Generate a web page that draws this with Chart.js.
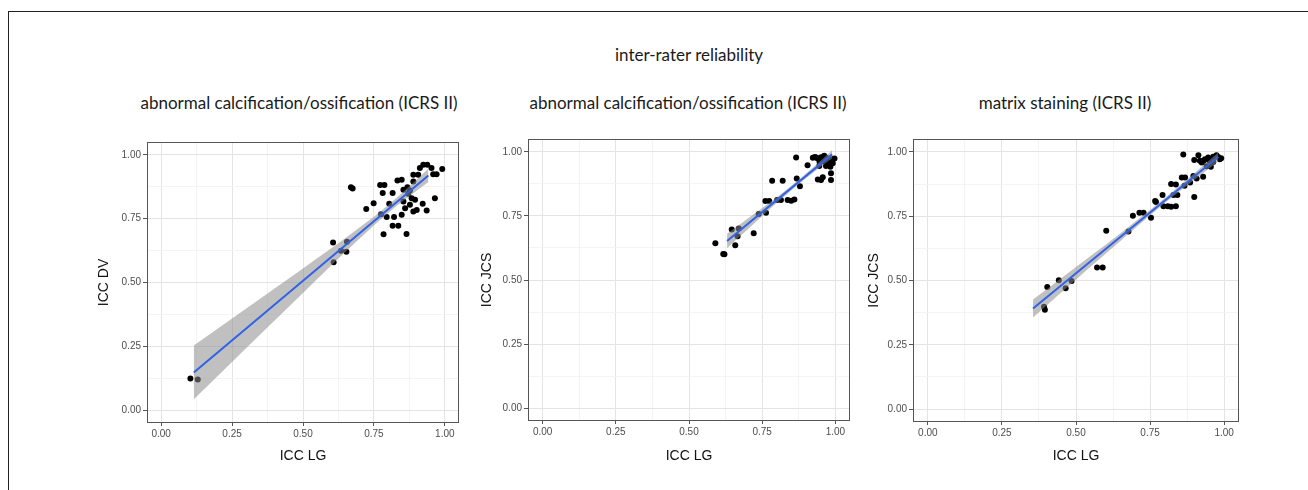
<!DOCTYPE html>
<html>
<head>
<meta charset="utf-8">
<script src="https://cdn.jsdelivr.net/npm/chart.js@4.4.1/dist/chart.umd.min.js"></script>
<style>
html,body{margin:0;padding:0;background:#fff;}
#wrap{position:relative;width:1308px;height:490px;overflow:hidden;background:#fff;}
#frame{position:absolute;left:8px;top:11px;width:1400px;height:600px;border-left:1px solid #222;border-top:1px solid #222;}
canvas{position:absolute;top:0;}
.t{position:absolute;font-family:Lato,"Open Sans",sans-serif;color:#1a1a1a;white-space:nowrap;line-height:1;transform:translate(-50%,-50%);font-size:17px;}
</style>
</head>
<body>
<div id="wrap">
  <div id="frame"></div>
  <div class="t" style="left:689px;top:54px;">inter-rater reliability</div>
  <div class="t" style="left:299px;top:102px;">abnormal calcification/ossification (ICRS II)</div>
  <div class="t" style="left:688px;top:102px;">abnormal calcification/ossification (ICRS II)</div>
  <div class="t" style="left:1065px;top:102px;">matrix staining (ICRS II)</div>
  <canvas id="c1" style="left:0px" width="470" height="490"></canvas>
  <canvas id="c2" style="left:470px" width="390" height="490"></canvas>
  <canvas id="c3" style="left:850px" width="458" height="490"></canvas>
</div>
<script>
// ---------- data ----------
const tickValues = [0, 0.25, 0.5, 0.75, 1];
const tickLabels = ['0.00', '0.25', '0.50', '0.75', '1.00'];
const minorTickValues = [0.125, 0.375, 0.625, 0.875];

// Panel 1: ICC LG vs ICC DV
const p1x = [0.103,0.129,0.606,0.608,0.634,0.653,0.655,0.669,0.675,0.723,0.749,0.772,0.787,0.781,0.784,0.775,0.795,0.804,0.816,0.821,0.816,0.836,0.833,0.848,0.854,0.848,0.854,0.865,0.860,0.871,0.877,0.883,0.889,0.889,0.895,0.889,0.901,0.906,0.912,0.924,0.938,0.922,0.936,0.953,0.959,0.971,0.965,0.991,0.877,0.868];
const p1y = [0.124,0.120,0.657,0.579,0.624,0.620,0.660,0.873,0.868,0.788,0.810,0.882,0.882,0.850,0.689,0.767,0.756,0.808,0.850,0.756,0.722,0.722,0.899,0.902,0.863,0.765,0.817,0.690,0.791,0.847,0.804,0.830,0.895,0.922,0.824,0.778,0.784,0.922,0.948,0.961,0.961,0.808,0.782,0.948,0.924,0.924,0.830,0.944,0.860,0.873];
const fit1x = [0.115, 0.942];
const fit1y = [0.148, 0.919];
const band1x  = [0.115, 0.300, 0.500, 0.650, 0.800, 0.942];
const band1hi = [0.253, 0.398, 0.555, 0.674, 0.802, 0.945];
const band1lo = [0.043, 0.244, 0.459, 0.620, 0.772, 0.893];

// Panel 2: ICC LG vs ICC JCS
const p2x = [0.590,0.617,0.621,0.646,0.658,0.670,0.666,0.721,0.738,0.761,0.763,0.774,0.784,0.820,0.801,0.814,0.837,0.849,0.860,0.866,0.868,0.879,0.905,0.923,0.934,0.940,0.945,0.951,0.957,0.959,0.966,0.974,0.979,0.985,0.985,0.991,0.997,0.968,0.951,0.983,0.940,0.930,0.950,0.962,0.976,0.990,0.946];
const p2y = [0.643,0.601,0.600,0.697,0.636,0.701,0.671,0.682,0.757,0.808,0.762,0.808,0.887,0.887,0.812,0.812,0.812,0.809,0.814,0.978,0.896,0.866,0.948,0.977,0.978,0.892,0.945,0.979,0.901,0.962,0.979,0.957,0.974,0.916,0.890,0.955,0.974,0.945,0.890,0.942,0.974,0.980,0.970,0.985,0.965,0.970,0.960];
const fit2x = [0.630, 0.989];
const fit2y = [0.652, 0.990];
const band2x  = [0.630, 0.700, 0.800, 0.870, 0.940, 0.989];
const band2hi = [0.680, 0.739, 0.823, 0.886, 0.955, 1.006];
const band2lo = [0.624, 0.697, 0.801, 0.870, 0.933, 0.975];

// Panel 3: matrix staining
const p3x = [0.392,0.395,0.403,0.442,0.465,0.485,0.571,0.590,0.602,0.677,0.692,0.714,0.728,0.753,0.767,0.770,0.792,0.795,0.810,0.821,0.821,0.837,0.837,0.842,0.829,0.862,0.857,0.868,0.866,0.885,0.899,0.896,0.907,0.899,0.913,0.918,0.929,0.935,0.941,0.955,0.946,0.963,0.974,0.985,0.963,0.924,0.990,0.980,0.930,0.950];
const p3y = [0.398,0.386,0.475,0.501,0.470,0.498,0.551,0.551,0.693,0.690,0.752,0.763,0.763,0.744,0.809,0.805,0.832,0.789,0.789,0.787,0.875,0.873,0.789,0.832,0.832,0.990,0.900,0.900,0.868,0.881,0.825,0.906,0.896,0.968,0.987,0.965,0.903,0.971,0.944,0.942,0.978,0.981,0.987,0.971,0.961,0.959,0.975,0.980,0.965,0.965];
const fit3x = [0.355, 0.980];
const fit3y = [0.391, 0.981];
const band3x  = [0.355, 0.450, 0.550, 0.650, 0.800, 0.900, 0.980];
const band3hi = [0.426, 0.509, 0.596, 0.684, 0.821, 0.918, 0.998];
const band3lo = [0.356, 0.453, 0.554, 0.654, 0.801, 0.892, 0.964];

// ---------- helpers ----------
const zip = (xs, ys) => xs.map((x, i) => ({x: x, y: ys[i]}));
const allTicks = tickValues.concat(minorTickValues).sort((a, b) => a - b);
const isMajor = v => tickValues.some(t => Math.abs(t - v) < 1e-9);
const labelOf = v => { const i = tickValues.findIndex(t => Math.abs(t - v) < 1e-9); return i >= 0 ? tickLabels[i] : ''; };

const panelBorder = {
  id: 'panelBorder',
  afterDraw(chart) {
    const a = chart.chartArea, ctx = chart.ctx;
    ctx.save();
    ctx.strokeStyle = '#555555';
    ctx.lineWidth = 1;
    ctx.strokeRect(Math.round(a.left) + 0.5, Math.round(a.top) + 0.5, Math.round(a.right - a.left) - 1, Math.round(a.bottom - a.top) - 1);
    ctx.restore();
  }
};

function axis(titleText, isX, titlePad) {
  return {
    type: 'linear',
    min: -0.05,
    max: 1.05,
    afterBuildTicks: s => { s.ticks = allTicks.map(v => ({value: v})); },
    afterFit: s => { if (isX) s.height = 50; else s.width = 57; },
    border: {display: false},
    grid: {
      color: c => (c.tick && isMajor(c.tick.value)) ? '#e4e4e4' : '#f1f1f1',
      lineWidth: c => (c.tick && isMajor(c.tick.value)) ? 1 : 0.8,
      tickColor: c => (c.tick && isMajor(c.tick.value)) ? '#555555' : 'rgba(0,0,0,0)',
      tickLength: isX ? 3 : 4,
      tickWidth: 1,
      drawTicks: true
    },
    ticks: {
      autoSkip: false,
      maxRotation: 0,
      padding: 2,
      color: '#4d4d4d',
      font: {family: '"Liberation Sans", Arial, sans-serif', size: 10},
      callback: v => labelOf(v)
    },
    title: {
      display: true,
      text: titleText,
      color: '#111',
      font: {family: '"Liberation Sans", Arial, sans-serif', size: 14, weight: 'normal'},
      padding: isX ? {top: 0, bottom: titlePad} : {top: titlePad, bottom: 0}
    }
  };
}

function makePanel(id, pts, fit, band, yTitle, pad, yTitlePad, xTitlePad) {
  new Chart(document.getElementById(id), {
    type: 'scatter',
    data: {
      datasets: [
        {type: 'line', label: 'fit', data: fit, borderColor: '#2f62e8', borderWidth: 2, pointRadius: 0, fill: false, order: 0},
        {type: 'line', label: 'upper', data: band[0], borderWidth: 0, borderColor: 'rgba(0,0,0,0)', pointRadius: 0, fill: false, cubicInterpolationMode: 'monotone', order: 1},
        {type: 'line', label: 'lower', data: band[1], borderWidth: 0, borderColor: 'rgba(0,0,0,0)', pointRadius: 0, fill: '-1', backgroundColor: 'rgba(140,140,140,0.55)', cubicInterpolationMode: 'monotone', order: 1},
        {label: 'points', data: pts, pointRadius: 3, pointHoverRadius: 3, backgroundColor: '#000', borderWidth: 0, order: 2}
      ]
    },
    options: {
      responsive: false,
      animation: false,
      devicePixelRatio: 1,
      layout: {padding: pad},
      plugins: {legend: {display: false}, tooltip: {enabled: false}, title: {display: false}},
      scales: {
        x: axis('ICC LG', true, xTitlePad),
        y: axis(yTitle, false, yTitlePad)
      }
    },
    plugins: [panelBorder]
  });
}

makePanel('c1', zip(p1x, p1y), zip(fit1x, fit1y), [zip(band1x, band1hi), zip(band1x, band1lo)], 'ICC DV',
  {left: 90, right: 11, top: 142, bottom: 17}, 5.6, 8.6);
makePanel('c2', zip(p2x, p2y), zip(fit2x, fit2y), [zip(band2x, band2hi), zip(band2x, band2lo)], 'ICC JCS',
  {left: 1, right: 10, top: 139, bottom: 19}, 7.6, 6.6);
makePanel('c3', zip(p3x, p3y), zip(fit3x, fit3y), [zip(band3x, band3hi), zip(band3x, band3lo)], 'ICC JCS',
  {left: 6, right: 69, top: 139, bottom: 18}, 9.6, 7.6);
</script>
</body>
</html>
